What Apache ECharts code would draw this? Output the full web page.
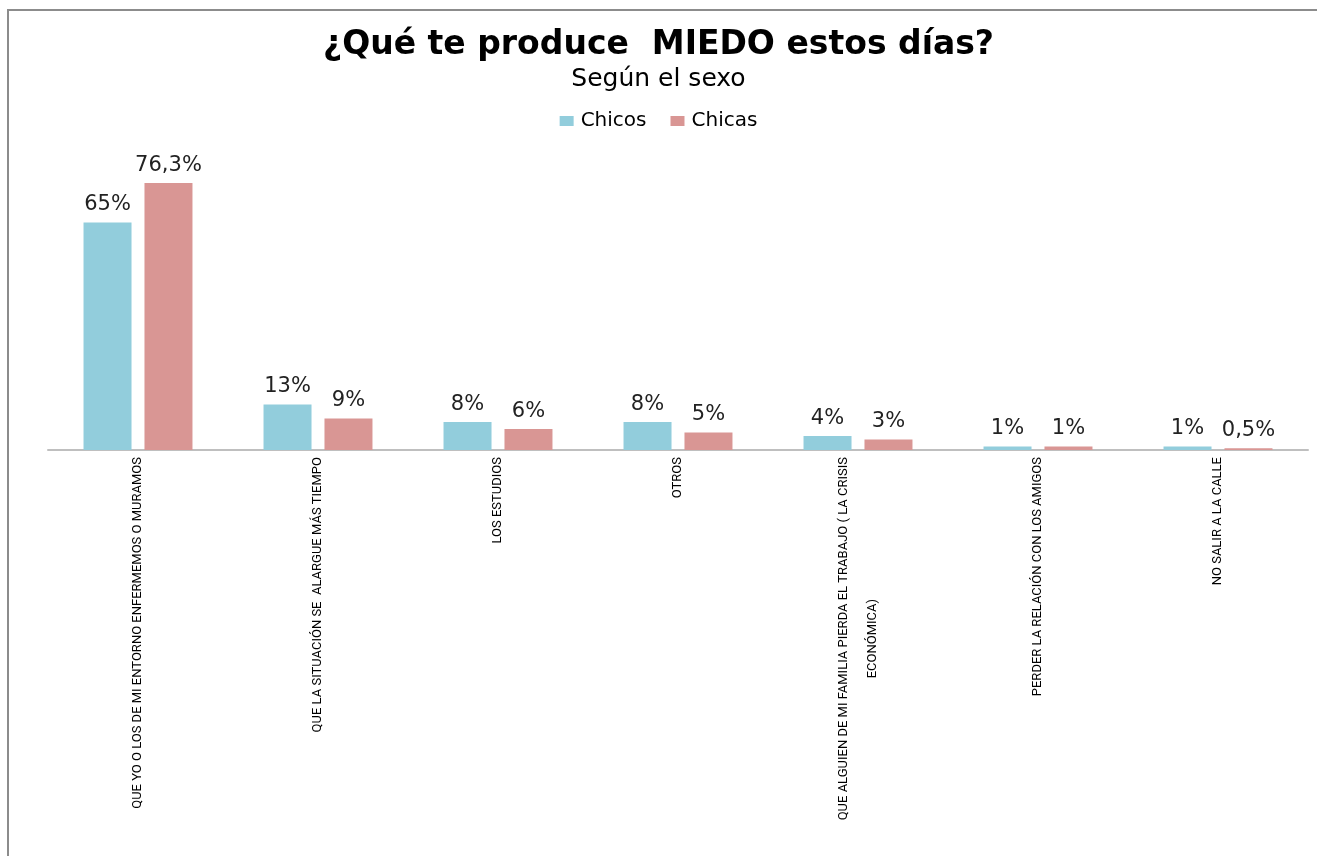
<!DOCTYPE html>
<html>
<head>
<meta charset="utf-8">
<script src="https://cdn.jsdelivr.net/npm/echarts@6/dist/echarts.min.js"></script>
<style>
html,body{margin:0;padding:0;background:#fff;}
#chart{width:1317px;height:856px;}
</style>
</head>
<body>
<div id="chart"></div>
<script>
const categories = [
  "QUE YO O LOS DE MI ENTORNO ENFERMEMOS O MURAMOS",
  "QUE LA SITUACIÓN SE  ALARGUE MÁS TIEMPO",
  "LOS ESTUDIOS",
  "OTROS",
  "QUE ALGUIEN DE MI FAMILIA PIERDA EL TRABAJO ( LA CRISIS\nECONÓMICA)",
  "PERDER LA RELACIÓN CON LOS AMIGOS",
  "NO SALIR A LA CALLE"
];
const chicos = [65, 13, 8, 8, 4, 1, 1];
const chicas = [76.3, 9, 6, 5, 3, 1, 0.5];
const seriesNames = ["Chicos", "Chicas"];

function pct(v) { return String(v).replace('.', ',') + '%'; }

const chart = echarts.init(document.getElementById('chart'), null, {renderer: 'canvas'});
const labelStyle = {
  show: true, position: 'top', distance: 7,
  fontFamily: 'DejaVu Sans', fontSize: 21, color: '#222',
  formatter: p => pct(p.value)
};
const axisFont = 'Roboto';
chart.setOption({
  animation: false,
  backgroundColor: '#fff',
  title: [
    {text: '¿Qué te produce  MIEDO estos días?', left: 'center', top: 24,
     textStyle: {fontFamily: 'DejaVu Sans', fontWeight: 'bold', fontSize: 33, color: '#000'}},
    {text: 'Según el sexo', left: 'center', top: 62,
     textStyle: {fontFamily: 'DejaVu Sans', fontWeight: 'normal', fontSize: 25, color: '#000'}}
  ],
  legend: {
    top: 106, left: 'center', itemWidth: 14, itemHeight: 10, itemGap: 24,
    icon: 'rect',
    textStyle: {fontFamily: 'DejaVu Sans', fontSize: 20, color: '#000', padding: [0, 0, 0, 2]},
    data: seriesNames
  },
  grid: {left: 48, right: 9, top: 135, bottom: 406, containLabel: false, outerBoundsMode: 'none'},
  xAxis: {
    type: 'category', data: categories,
    axisLine: {lineStyle: {color: '#bfbfbf', width: 2}},
    axisTick: {show: false},
    axisLabel: {
      interval: 0, rotate: 90, margin: 7,
      fontFamily: axisFont, fontSize: 13, color: '#000',
      lineHeight: 29,
      formatter: v => v.split('\n').map(s => '{c|' + s + '}').join('\n'),
      rich: {c: {align: 'center', fontFamily: axisFont, fontSize: 13, lineHeight: 29, color: '#000'}}
    }
  },
  yAxis: {type: 'value', min: 0, max: 90, show: false, splitLine: {show: false}},
  series: [
    {name: seriesNames[0], type: 'bar', data: chicos, barWidth: 48, barGap: '27%',
     itemStyle: {color: '#92CDDC'}, label: labelStyle},
    {name: seriesNames[1], type: 'bar', data: chicas, barWidth: 48,
     itemStyle: {color: '#D99694'}, label: labelStyle}
  ],
  graphic: [
    {type: 'rect', shape: {x: 7, y: 9, width: 1310, height: 2}, style: {fill: '#8c8c8c'}, silent: true},
    {type: 'rect', shape: {x: 7, y: 9, width: 2, height: 847}, style: {fill: '#8c8c8c'}, silent: true}
  ]
});
</script>
</body>
</html>
